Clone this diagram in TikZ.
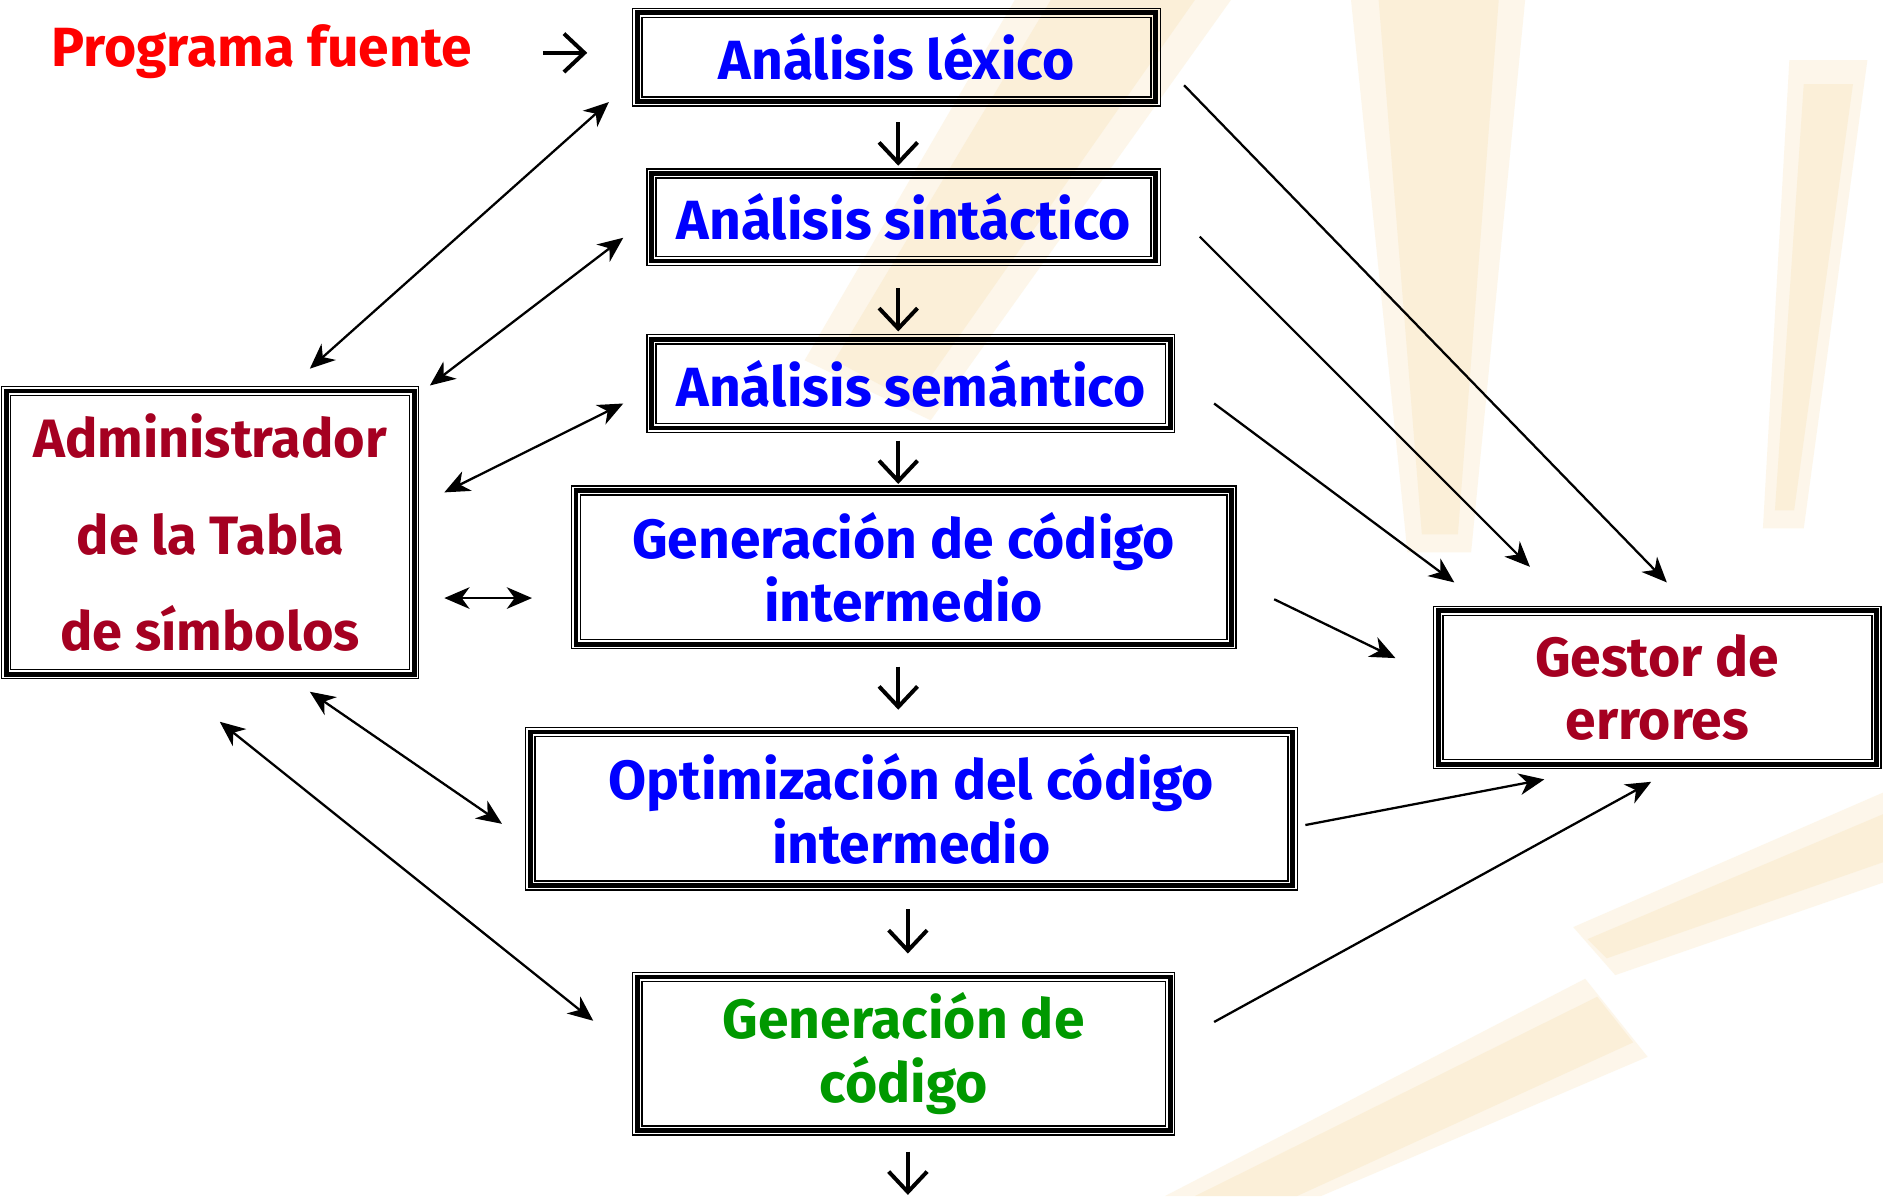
\documentclass[tikz,border=0pt]{standalone}
\usepackage{fontspec}
\setmainfont{Fira Sans}
\usetikzlibrary{arrows.meta}
\definecolor{dred}{RGB}{165,0,33}
\definecolor{dgreen}{RGB}{0,153,0}
\definecolor{raycol}{RGB}{248,226,180}
\newcommand\triframe[1]{%
  \draw[line width=1.1pt] (#1.south west) rectangle (#1.north east);
  \draw[line width=4pt] ([shift={(3.8pt,3.8pt)}]#1.south west) rectangle ([shift={(-3.8pt,-3.8pt)}]#1.north east);
  \draw[line width=1.3pt] ([shift={(7.6pt,7.6pt)}]#1.south west) rectangle ([shift={(-7.6pt,-7.6pt)}]#1.north east);}
\tikzset{
  stagebox/.style={inner sep=0pt, align=center, font=\bfseries\fontsize{46}{53}\selectfont},
  tip/.tip={Stealth[length=21pt,width=18pt,inset=6.5pt]},
  dbl/.style={tip-tip, line width=1.9pt},
  sgl/.style={-tip, line width=1.9pt},
  glyph/.style={-{Straight Barb[length=17pt,width=32pt,line width=3.3pt]}, line width=3.3pt},
  softray/.style={fill=raycol, opacity=0.28},
  coreray/.style={fill=raycol, opacity=0.32},
}
\begin{document}
\begin{tikzpicture}[x=1pt,y=-1pt]
\fill[white] (0,0) rectangle (1568,996);
\useasboundingbox (0,0) rectangle (1568,996);
% faint background rays (soft outer layer, then core)
\path[softray] (845,0) -- (1025,0) -- (775,350) -- (670,300) -- cycle;
\path[coreray] (875,0) -- (995,0) -- (760,335) -- (695,300) -- cycle;
\path[softray] (1125,0) -- (1270,0) -- (1225,460) -- (1172,460) -- cycle;
\path[coreray] (1148,0) -- (1248,0) -- (1214,445) -- (1184,445) -- cycle;
\path[softray] (1490,50) -- (1555,50) -- (1502,440) -- (1468,440) -- cycle;
\path[coreray] (1502,70) -- (1543,70) -- (1494,425) -- (1478,425) -- cycle;
\path[softray] (1568,660) -- (1568,735) -- (1345,812) -- (1310,772) -- cycle;
\path[coreray] (1568,678) -- (1568,718) -- (1338,798) -- (1322,782) -- cycle;
\path[softray] (1320,815) -- (1372,880) -- (1100,996) -- (970,996) -- cycle;
\path[coreray] (1330,830) -- (1360,868) -- (1080,996) -- (995,996) -- cycle;

% nodes
\node[stagebox, text=red] (src) at (218,43) {Programa fuente};
\node[stagebox, text=blue, minimum width=439pt, minimum height=81pt] (lex) at (746.5,47.5) {Análisis léxico};
\node[stagebox, text=blue, minimum width=427pt, minimum height=80pt] (sin) at (752.5,181) {Análisis sintáctico};
\node[stagebox, text=blue, minimum width=439pt, minimum height=81pt] (sem) at (758.5,319.5) {Análisis semántico};
\node[stagebox, text=blue, minimum width=553pt, minimum height=135pt] (gci) at (752.5,472.5) {Generación de código\\intermedio};
\node[stagebox, text=blue, minimum width=642pt, minimum height=135pt] (opt) at (759,673.5) {Optimización del código\\intermedio};
\node[stagebox, text=dgreen, minimum width=451pt, minimum height=135pt] (gen) at (752.5,877.5) {Generación de\\código};
\node[stagebox, text=dred, minimum width=347pt, minimum height=243pt, font=\bfseries\fontsize{45}{80}\selectfont] (adm) at (175,443.5) {Administrador\\de la Tabla\\de símbolos};
\node[stagebox, text=dred, minimum width=372pt, minimum height=135pt] (ges) at (1380,572.5) {Gestor de\\errores};
\foreach \n in {lex,sin,sem,gci,opt,gen,adm,ges} {\triframe{\n}}

% glyph arrows
\coordinate (s0) at (452,44); \coordinate (s1) at (489,44);
\draw[glyph] (s0) -- (s1);
\coordinate (d1a) at (748,102); \coordinate (d1b) at (748,138);
\coordinate (d2a) at (748,240); \coordinate (d2b) at (748,276);
\coordinate (d3a) at (748,367); \coordinate (d3b) at (748,403);
\coordinate (d4a) at (748,555); \coordinate (d4b) at (748,591);
\coordinate (d5a) at (756,757); \coordinate (d5b) at (756,794);
\coordinate (d6a) at (756,959); \coordinate (d6b) at (756,995);
\foreach \i in {1,...,6} {\draw[glyph] (d\i a) -- (d\i b);}

% symbol table links
\coordinate (a1) at (258,307); \coordinate (b1) at (507,85);
\coordinate (a2) at (358,321); \coordinate (b2) at (519,198);
\coordinate (a3) at (370,410); \coordinate (b3) at (519,336);
\coordinate (a4) at (370,498); \coordinate (b4) at (443,498);
\coordinate (a5) at (258,576); \coordinate (b5) at (418,686);
\coordinate (a6) at (183,601); \coordinate (b6) at (494,850);
\foreach \i in {1,...,6} {\draw[dbl] (a\i) -- (b\i);}

% error links
\coordinate (e1) at (986,71);   \coordinate (f1) at (1388,485);
\coordinate (e2) at (999,197);  \coordinate (f2) at (1274,472);
\coordinate (e3) at (1011,336); \coordinate (f3) at (1211,485);
\coordinate (e4) at (1061,499); \coordinate (f4) at (1162,548);
\coordinate (e5) at (1087,687); \coordinate (f5) at (1286,649);
\coordinate (e6) at (1011,851); \coordinate (f6) at (1375,651);
\foreach \i in {1,...,6} {\draw[sgl] (e\i) -- (f\i);}
\end{tikzpicture}
\end{document}
